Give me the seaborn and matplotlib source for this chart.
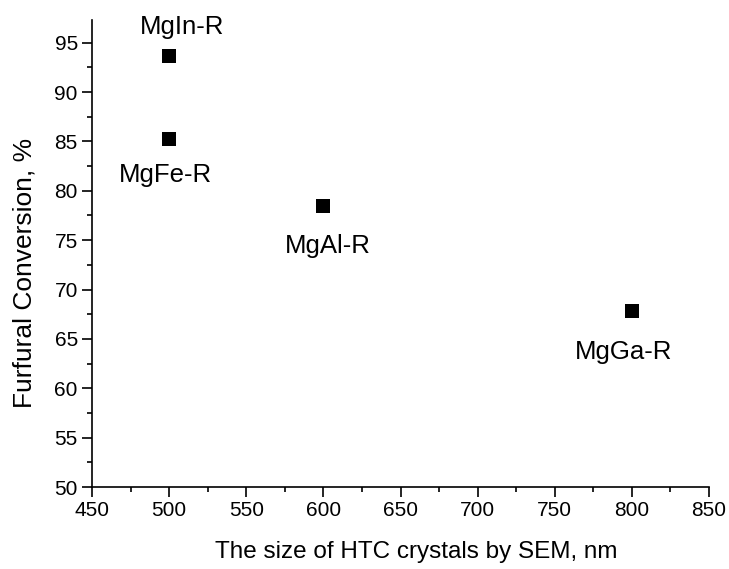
import matplotlib
matplotlib.use("Agg")
import matplotlib.pyplot as plt
import pandas as pd
import seaborn as sns
from matplotlib.ticker import MultipleLocator

samples = ["MgIn-R", "MgFe-R", "MgAl-R", "MgGa-R"]
crystal_size = [500, 500, 600, 800]
conversion = [93.7, 85.2, 78.5, 67.8]

df = pd.DataFrame({"sample": samples, "size": crystal_size, "conv": conversion})

sns.set_style("ticks")
plt.rcParams['font.family'] = ['Liberation Sans', 'DejaVu Sans']
plt.rcParams['text.color'] = 'black'
plt.rcParams['axes.labelcolor'] = 'black'
plt.rcParams['xtick.color'] = 'black'
plt.rcParams['ytick.color'] = 'black'

fig = plt.figure(figsize=(7.29, 5.69), dpi=100)
ax = fig.add_axes([92/729, 1-487/569, (709-92)/729, (487-20)/569])

sns.scatterplot(data=df, x="size", y="conv", marker="s", s=95, color="black",
                edgecolor="black", linewidth=0, ax=ax, zorder=3)

# label offsets in pixels (dx, dy), converted to points
offsets = {"MgIn-R": (13, 29), "MgFe-R": (-4, -36), "MgAl-R": (4, -40), "MgGa-R": (-8, -41)}
for _, r in df.iterrows():
    dx, dy = offsets[r["sample"]]
    ax.annotate(r["sample"], (r["size"], r["conv"]), xytext=(dx*0.72, dy*0.72),
                textcoords="offset points", ha="center", va="center", fontsize=18.5)

ax.set_xlim(450, 850)
ax.set_ylim(50, 97.3)
ax.xaxis.set_major_locator(MultipleLocator(50))
ax.xaxis.set_minor_locator(MultipleLocator(25))
ax.yaxis.set_major_locator(MultipleLocator(5))
ax.yaxis.set_minor_locator(MultipleLocator(2.5))
ax.tick_params(which="major", length=7.2, width=1.2, pad=3, labelsize=15, direction="out", color="black")
ax.tick_params(which="minor", length=3.6, width=1.2, direction="out", color="black")
for s in ["top", "right"]:
    ax.spines[s].set_visible(False)
for s in ["left", "bottom"]:
    ax.spines[s].set_linewidth(1.2)
    ax.spines[s].set_color("black")

ax.set_xlabel("The size of HTC crystals by SEM, nm", fontsize=17.5, va="center")
ax.set_ylabel("Furfural Conversion, %", fontsize=19, va="center")
ax.xaxis.set_label_coords(0.525, -0.139)
ax.yaxis.set_label_coords(-0.109, 0.458)

fig.savefig("out.png", dpi=100)
